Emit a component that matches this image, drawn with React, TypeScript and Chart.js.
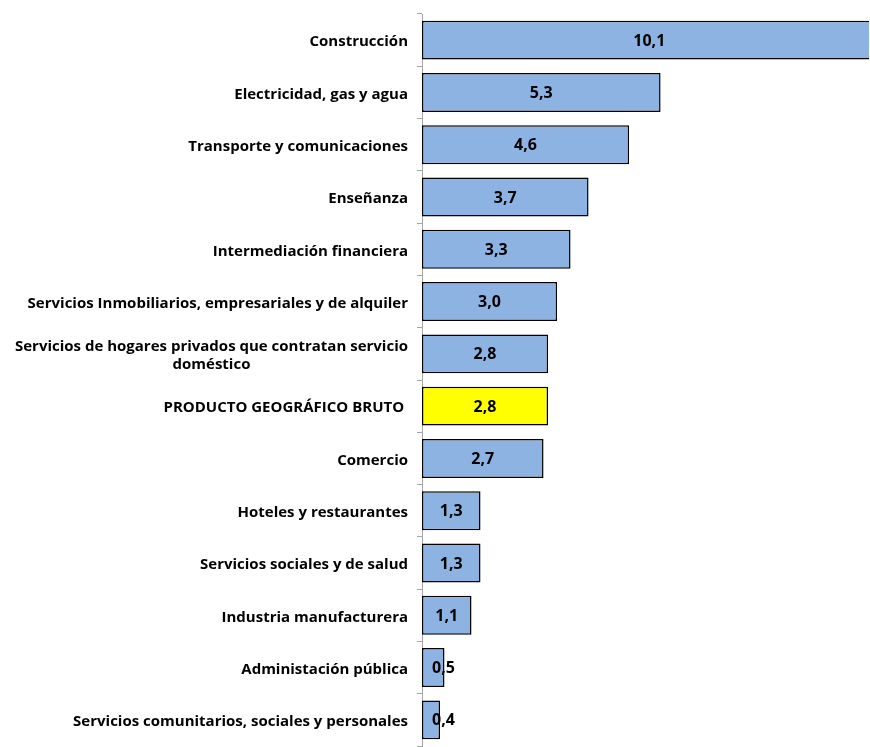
import React, { useEffect, useRef } from 'react';
import { Chart, registerables } from 'chart.js';

Chart.register(...registerables);

const categories = [
  'Construcción',
  'Electricidad, gas y agua',
  'Transporte y comunicaciones',
  'Enseñanza',
  'Intermediación financiera',
  'Servicios Inmobiliarios, empresariales y de alquiler',
  'Servicios de hogares privados que contratan servicio\ndoméstico',
  'PRODUCTO GEOGRÁFICO BRUTO ',
  'Comercio',
  'Hoteles y restaurantes',
  'Servicios sociales y de salud',
  'Industria manufacturera',
  'Administación pública',
  'Servicios comunitarios, sociales y personales',
];

const values = [10.1, 5.3, 4.6, 3.7, 3.3, 3.0, 2.8, 2.8, 2.7, 1.3, 1.3, 1.1, 0.5, 0.4];

const highlighted = 'PRODUCTO GEOGRÁFICO BRUTO ';

const BLUE = '#8db3e2';
const YELLOW = '#ffff00';
const FONT = '"Open Sans", Lato, sans-serif';

const fmt = (v: number) => v.toFixed(1).replace('.', ',');

// category names drawn by hand so the two-line one can be centred under itself
const labelsPlugin = {
  id: 'sideLabels',
  afterDraw(chart: any) {
    const { ctx, chartArea } = chart;
    const yScale = chart.scales.y;
    const xScale = chart.scales.x;
    ctx.save();
    ctx.fillStyle = '#000';
    ctx.textBaseline = 'middle';

    ctx.font = `bold 15px ${FONT}`;
    const rightX = chartArea.left - 14;
    categories.forEach((cat, i) => {
      const y = yScale.getPixelForValue(i) + 2;
      const lines = cat.split('\n');
      if (lines.length === 1) {
        ctx.textAlign = 'right';
        ctx.fillText(cat, rightX, y);
      } else {
        const widest = Math.max(...lines.map((l) => ctx.measureText(l).width));
        const cx = rightX - widest / 2;
        const lh = 18;
        ctx.textAlign = 'center';
        lines.forEach((l, k) => {
          ctx.fillText(l, cx, y + (k - (lines.length - 1) / 2) * lh);
        });
      }
    });

    ctx.font = `bold 16px ${FONT}`;
    ctx.textAlign = 'center';
    values.forEach((v, i) => {
      const text = fmt(v);
      const w = ctx.measureText(text).width;
      const x0 = xScale.getPixelForValue(0);
      const mid = (x0 + xScale.getPixelForValue(v)) / 2;
      const x = Math.max(mid, chartArea.left + 10 + w / 2);
      ctx.fillText(text, x, yScale.getPixelForValue(i) + 1);
    });
    ctx.restore();
  },
};

export default function App() {
  const canvasRef = useRef<HTMLCanvasElement>(null);

  useEffect(() => {
    if (!canvasRef.current) return;
    const chart = new Chart(canvasRef.current, {
      type: 'bar',
      data: {
        labels: categories,
        datasets: [
          {
            data: values,
            backgroundColor: categories.map((c) => (c === highlighted ? YELLOW : BLUE)),
            borderColor: '#000',
            borderWidth: 1.5,
            borderSkipped: false,
            categoryPercentage: 1,
            barPercentage: 0.745,
          },
        ],
      },
      options: {
        indexAxis: 'y',
        animation: false,
        responsive: true,
        maintainAspectRatio: false,
        layout: { padding: { top: 14, right: 1, bottom: 1, left: 0 } },
        plugins: { legend: { display: false }, tooltip: { enabled: false } },
        scales: {
          x: { display: false, min: 0, max: 9.93 },
          y: {
            afterFit: (scale: any) => {
              scale.width = 422;
            },
            ticks: { display: false },
            grid: {
              drawOnChartArea: false,
              drawTicks: true,
              tickLength: 5,
              color: '#a6a6a6',
              offset: true,
            },
            border: { color: '#a6a6a6', width: 1 },
          },
        },
      },
      plugins: [labelsPlugin],
    });
    return () => chart.destroy();
  }, []);

  return (
    <div style={{ position: 'fixed', left: 0, top: 0, width: 870, height: 747, background: '#fff' }}>
      <canvas ref={canvasRef} />
    </div>
  );
}
